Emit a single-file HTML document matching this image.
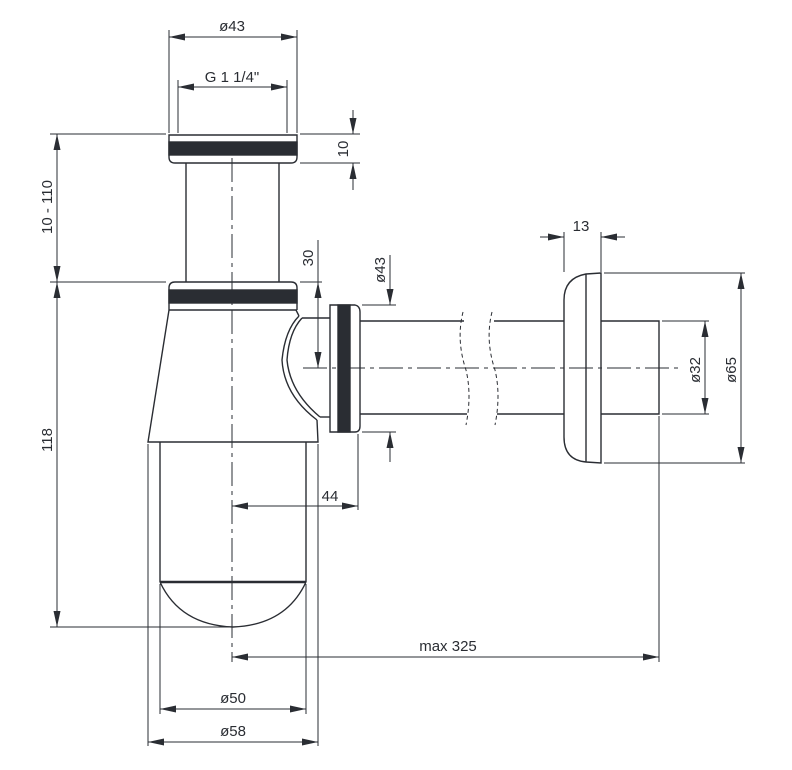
<!DOCTYPE html>
<html><head><meta charset="utf-8"><style>
html,body{margin:0;padding:0;background:#fff;}
svg{display:block;}
text{font-family:"Liberation Sans",sans-serif;font-size:15px;fill:#2a2d33;}
</style></head><body>
<svg width="792" height="770" viewBox="0 0 792 770" xmlns="http://www.w3.org/2000/svg">
<defs>
<marker id="a" viewBox="0 0 16 7" refX="16" refY="3.5" markerWidth="16" markerHeight="7" markerUnits="userSpaceOnUse" orient="auto-start-reverse">
<path d="M0,0 L16,3.5 L0,7 z" fill="#2a2d33"/></marker>
</defs>
<g stroke="#2a2d33" fill="none" stroke-width="1.4">
<path d="M169,135 H297 V157 Q297,163 291,163 H175 Q169,163 169,157 Z"/>
<rect x="169" y="142" width="128" height="13" fill="#2a2d33"/>
<line x1="186" y1="163" x2="186" y2="282"/><line x1="279" y1="163" x2="279" y2="282"/>
<path d="M169,310 V288 Q169,282 175,282 H291 Q297,282 297,288 V310"/>
<rect x="169" y="290" width="128" height="13" fill="#2a2d33"/>
<line x1="169" y1="310" x2="297" y2="310"/>
<path d="M169,310 L148,442 H318 L317,420"/>
<path d="M296,310 L299,316"/>
<path d="M299,316 Q285,330 282,360 Q284,395 317,420"/>
<path d="M302,318 Q289,332 287,360 Q290,392 320,417"/>
<line x1="302" y1="318" x2="330" y2="318"/><line x1="320" y1="417" x2="330" y2="417"/>
<path d="M330,305 H355 Q360,306 360,312 V426 Q360,432 355,432 H330 Z"/>
<rect x="338" y="305" width="12" height="127" fill="#2a2d33"/>
<line x1="360" y1="321" x2="464" y2="321"/><line x1="360" y1="414" x2="467" y2="414"/>
<line x1="494" y1="321" x2="564" y2="321"/><line x1="497" y1="414" x2="564" y2="414"/>
<path d="M463,312 Q456,340 466,370 Q472,395 466,425" stroke-dasharray="4,3" stroke-width="1"/>
<path d="M492,312 Q485,340 495,370 Q501,395 495,425" stroke-dasharray="4,3" stroke-width="1"/>
<path d="M601,273 L586,274 Q564,278 564,300 V437 Q564,460 586,462 L601,463 Z"/>
<line x1="586" y1="274" x2="586" y2="462"/>
<path d="M601,321 H659 V414 H601"/>
<line x1="160" y1="442" x2="160" y2="582"/><line x1="306" y1="442" x2="306" y2="582"/>
<line x1="160" y1="582" x2="306" y2="582" stroke-width="2.5"/>
<path d="M160,582 Q180,625 233,627 Q286,625 306,582"/>
</g>
<g stroke="#2a2d33" fill="none" stroke-width="1">
<line x1="232" y1="158" x2="232" y2="662" stroke-dasharray="24,5,4,5"/>
<line x1="303" y1="368" x2="680" y2="368" stroke-dasharray="24,5,4,5"/>
<line x1="169" y1="30" x2="169" y2="133"/><line x1="297" y1="30" x2="297" y2="133"/>
<line x1="169" y1="37" x2="297" y2="37" marker-start="url(#a)" marker-end="url(#a)"/>
<line x1="178" y1="80" x2="178" y2="133"/><line x1="287" y1="80" x2="287" y2="133"/>
<line x1="178" y1="87" x2="287" y2="87" marker-start="url(#a)" marker-end="url(#a)"/>
<line x1="300" y1="134" x2="360" y2="134"/><line x1="300" y1="163" x2="360" y2="163"/>
<line x1="353" y1="110" x2="353" y2="134" marker-end="url(#a)"/>
<line x1="353" y1="190" x2="353" y2="163" marker-end="url(#a)"/>
<line x1="50" y1="134" x2="166" y2="134"/><line x1="50" y1="282" x2="166" y2="282"/>
<line x1="50" y1="627" x2="232" y2="627"/>
<line x1="57" y1="134" x2="57" y2="282" marker-start="url(#a)" marker-end="url(#a)"/>
<line x1="57" y1="282" x2="57" y2="627" marker-start="url(#a)" marker-end="url(#a)"/>
<line x1="300" y1="282" x2="322" y2="282"/>
<line x1="318" y1="240" x2="318" y2="282"/>
<line x1="318" y1="282" x2="318" y2="368" marker-start="url(#a)" marker-end="url(#a)"/>
<line x1="362" y1="305" x2="396" y2="305"/><line x1="362" y1="432" x2="396" y2="432"/>
<line x1="390" y1="255" x2="390" y2="305" marker-end="url(#a)"/>
<line x1="390" y1="462" x2="390" y2="432" marker-end="url(#a)"/>
<line x1="358" y1="434" x2="358" y2="510"/>
<line x1="232" y1="506" x2="358" y2="506" marker-start="url(#a)" marker-end="url(#a)"/>
<line x1="160" y1="584" x2="160" y2="714"/><line x1="306" y1="584" x2="306" y2="714"/>
<line x1="148" y1="444" x2="148" y2="746"/><line x1="318" y1="444" x2="318" y2="746"/>
<line x1="160" y1="709" x2="306" y2="709" marker-start="url(#a)" marker-end="url(#a)"/>
<line x1="148" y1="742" x2="318" y2="742" marker-start="url(#a)" marker-end="url(#a)"/>
<line x1="659" y1="416" x2="659" y2="662"/>
<line x1="232" y1="657" x2="659" y2="657" marker-start="url(#a)" marker-end="url(#a)"/>
<line x1="564" y1="232" x2="564" y2="272"/><line x1="601" y1="232" x2="601" y2="272"/>
<line x1="540" y1="237" x2="564" y2="237" marker-end="url(#a)"/>
<line x1="625" y1="237" x2="601" y2="237" marker-end="url(#a)"/>
<line x1="662" y1="321" x2="709" y2="321"/><line x1="662" y1="414" x2="709" y2="414"/>
<line x1="705" y1="321" x2="705" y2="414" marker-start="url(#a)" marker-end="url(#a)"/>
<line x1="604" y1="273" x2="745" y2="273"/><line x1="604" y1="463" x2="745" y2="463"/>
<line x1="741" y1="273" x2="741" y2="463" marker-start="url(#a)" marker-end="url(#a)"/>
</g>
<text x="232" y="31" text-anchor="middle">ø43</text>
<text x="232" y="82" text-anchor="middle">G 1 1/4"</text>
<text transform="translate(348,149) rotate(-90)" text-anchor="middle">10</text>
<text transform="translate(52,207) rotate(-90)" text-anchor="middle">10 - 110</text>
<text transform="translate(52,440) rotate(-90)" text-anchor="middle">118</text>
<text transform="translate(313,258) rotate(-90)" text-anchor="middle">30</text>
<text transform="translate(385,270) rotate(-90)" text-anchor="middle">ø43</text>
<text x="330" y="501" text-anchor="middle">44</text>
<text x="233" y="703" text-anchor="middle">ø50</text>
<text x="233" y="736" text-anchor="middle">ø58</text>
<text x="448" y="651" text-anchor="middle">max 325</text>
<text x="581" y="231" text-anchor="middle">13</text>
<text transform="translate(700,370) rotate(-90)" text-anchor="middle">ø32</text>
<text transform="translate(736,370) rotate(-90)" text-anchor="middle">ø65</text>
</svg>
</body></html>
